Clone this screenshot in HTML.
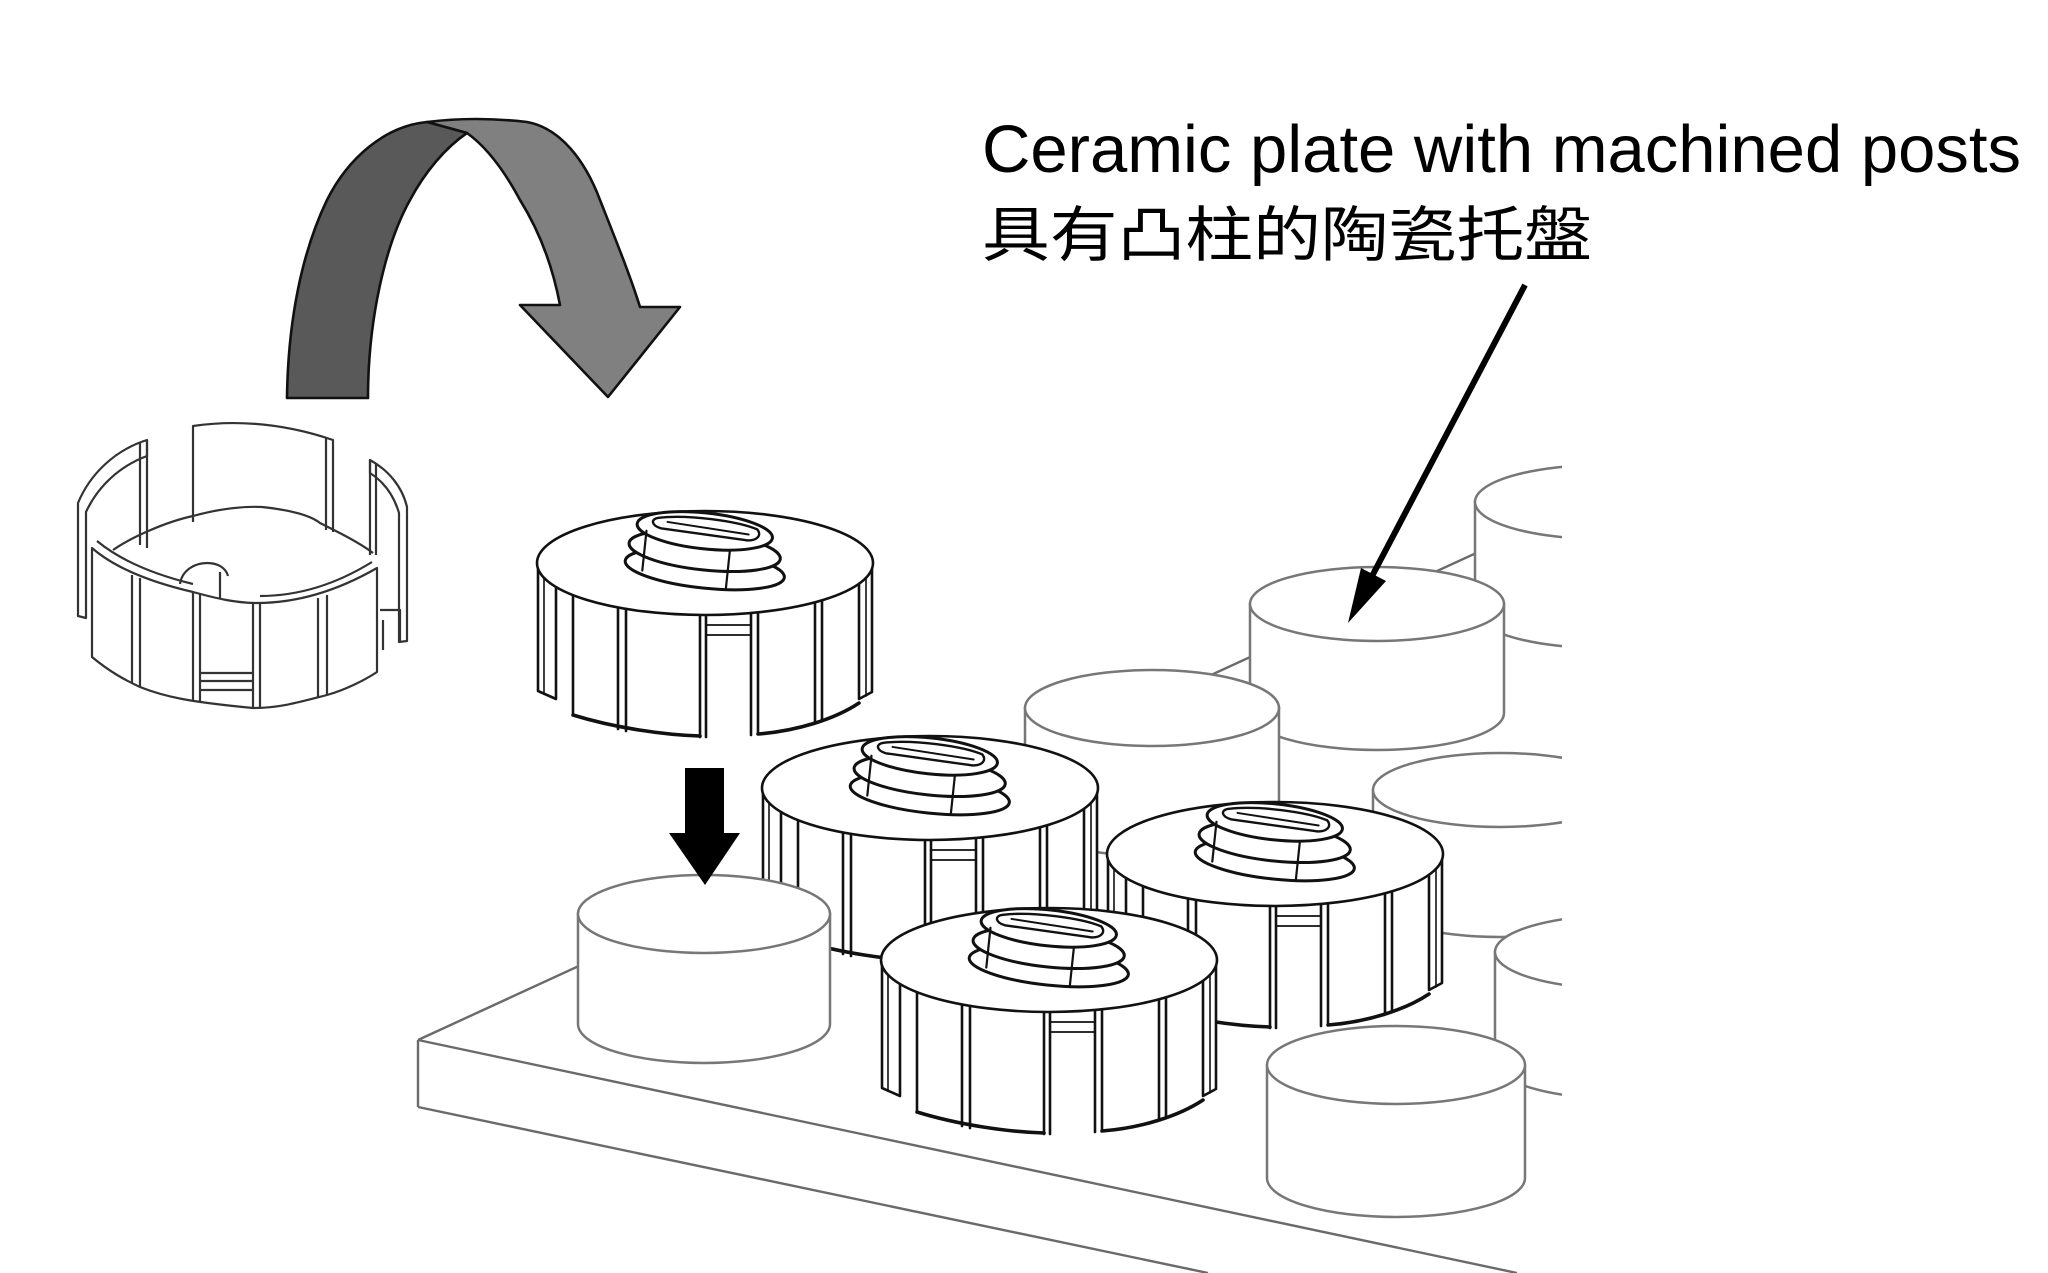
<!DOCTYPE html>
<html><head><meta charset="utf-8">
<style>
html,body{margin:0;padding:0;background:#fff;width:2048px;height:1273px;overflow:hidden}
svg{display:block}
</style></head>
<body>
<svg width="2048" height="1273" viewBox="0 0 2048 1273" xmlns="http://www.w3.org/2000/svg">
<defs>
<clipPath id="clip"><rect x="0" y="0" width="1562" height="1273"/></clipPath>
</defs>
<rect width="2048" height="1273" fill="#fff"/>

<g clip-path="url(#clip)">
<!-- plate -->
<g fill="none" stroke="#6a6a6a" stroke-width="2.4">
<path d="M418,1040 L1561,514"/>
<path d="M418,1040 L1517,1273"/>
<path d="M418,1040 L418,1107"/>
<path d="M418,1107 L1208,1273"/>
</g>

<!-- posts behind -->
<g fill="#fff" stroke="#777" stroke-width="2.5">
<path d="M1475,502 L1475,611 A127,37 0 0 0 1729,611 L1729,502 Z"/><ellipse cx="1602" cy="502" rx="127" ry="37"/>
<path d="M1250,604 L1250,713 A127,37 0 0 0 1504,713 L1504,604 Z"/><ellipse cx="1377" cy="604" rx="127" ry="37"/>
<path d="M1025,708 L1025,818 A127,38 0 0 0 1279,818 L1279,708 Z"/><ellipse cx="1152" cy="708" rx="127" ry="38"/>
<path d="M1373,790 L1373,900 A127,37 0 0 0 1627,900 L1627,790 Z"/><ellipse cx="1500" cy="790" rx="127" ry="37"/>
</g>

<!-- cap2 -->
<g transform="translate(760,728)" fill="#fff" stroke="#111" stroke-width="2.6" stroke-linejoin="round" stroke-linecap="round">
<path stroke="none" d="M3,60 L3,190 L22,197 L38,205 L38,213 C90,229 140,235 200,234 C262,231 306,216 337,192 L338,60 Z"/>
<path d="M3,62 L3,188 L21,196 L21,78"/><path d="M9,70 L9,191" stroke-width="1.6"/>
<path d="M337,62 L337,189 L324,196 L324,80"/><path d="M331,70 L331,193" stroke-width="1.6"/>
<path d="M38,90 L38,212"/>
<path d="M38,212 C80,225 130,232 165,233" stroke-width="3.6" fill="none"/>
<path d="M223,231 C262,228 300,216 324,200" stroke-width="3.6" fill="none"/>
<path d="M83,104 L83,226 M91,106 L91,228 M165,112 L165,234 M171,112 L171,234 M216,111 L216,232 M223,110 L223,231 M280,99 L280,220 M287,97 L287,218" fill="none"/>
<path d="M171,122 L216,122 M171,132 L216,132" stroke-width="1.8" fill="none"/>
<ellipse cx="170" cy="60" rx="168" ry="52"/>
<g transform="rotate(6 170 45)">
<ellipse cx="172" cy="66" rx="80" ry="19" stroke-width="3"/>
<ellipse cx="170" cy="48" rx="76" ry="19" stroke-width="3"/>
<ellipse cx="168" cy="28" rx="68" ry="18" stroke-width="3"/>
<path d="M120,20 C150,13 200,15 220,21 C226,27 220,33 210,33 L124,30 C114,28 113,22 120,20 Z" stroke-width="2.4"/>
<path d="M130,23 L212,27" stroke-width="2" fill="none"/>
<path d="M110,34 L110,74 M195,46 L195,84" stroke-width="2.2" fill="none"/>
</g>
</g>

<!-- cap3 -->
<g transform="translate(1105,794)" fill="#fff" stroke="#111" stroke-width="2.6" stroke-linejoin="round" stroke-linecap="round">
<path stroke="none" d="M3,60 L3,190 L22,197 L38,205 L38,213 C90,229 140,235 200,234 C262,231 306,216 337,192 L338,60 Z"/>
<path d="M3,62 L3,188 L21,196 L21,78"/><path d="M9,70 L9,191" stroke-width="1.6"/>
<path d="M337,62 L337,189 L324,196 L324,80"/><path d="M331,70 L331,193" stroke-width="1.6"/>
<path d="M38,90 L38,212"/>
<path d="M38,212 C80,225 130,232 165,233" stroke-width="3.6" fill="none"/>
<path d="M223,231 C262,228 300,216 324,200" stroke-width="3.6" fill="none"/>
<path d="M83,104 L83,226 M91,106 L91,228 M165,112 L165,234 M171,112 L171,234 M216,111 L216,232 M223,110 L223,231 M280,99 L280,220 M287,97 L287,218" fill="none"/>
<path d="M171,122 L216,122 M171,132 L216,132" stroke-width="1.8" fill="none"/>
<ellipse cx="170" cy="60" rx="168" ry="52"/>
<g transform="rotate(6 170 45)">
<ellipse cx="172" cy="66" rx="80" ry="19" stroke-width="3"/>
<ellipse cx="170" cy="48" rx="76" ry="19" stroke-width="3"/>
<ellipse cx="168" cy="28" rx="68" ry="18" stroke-width="3"/>
<path d="M120,20 C150,13 200,15 220,21 C226,27 220,33 210,33 L124,30 C114,28 113,22 120,20 Z" stroke-width="2.4"/>
<path d="M130,23 L212,27" stroke-width="2" fill="none"/>
<path d="M110,34 L110,74 M195,46 L195,84" stroke-width="2.2" fill="none"/>
</g>
</g>

<!-- posts A, F -->
<g fill="#fff" stroke="#777" stroke-width="2.5">
<path d="M578,914 L578,1024 A126,39 0 0 0 830,1024 L830,914 Z"/><ellipse cx="704" cy="914" rx="126" ry="39"/>
<path d="M1495,952 L1495,1062 A127,37 0 0 0 1749,1062 L1749,952 Z"/><ellipse cx="1622" cy="952" rx="127" ry="37"/>
</g>

<!-- cap4 -->
<g transform="translate(879,900)" fill="#fff" stroke="#111" stroke-width="2.6" stroke-linejoin="round" stroke-linecap="round">
<path stroke="none" d="M3,60 L3,190 L22,197 L38,205 L38,213 C90,229 140,235 200,234 C262,231 306,216 337,192 L338,60 Z"/>
<path d="M3,62 L3,188 L21,196 L21,78"/><path d="M9,70 L9,191" stroke-width="1.6"/>
<path d="M337,62 L337,189 L324,196 L324,80"/><path d="M331,70 L331,193" stroke-width="1.6"/>
<path d="M38,90 L38,212"/>
<path d="M38,212 C80,225 130,232 165,233" stroke-width="3.6" fill="none"/>
<path d="M223,231 C262,228 300,216 324,200" stroke-width="3.6" fill="none"/>
<path d="M83,104 L83,226 M91,106 L91,228 M165,112 L165,234 M171,112 L171,234 M216,111 L216,232 M223,110 L223,231 M280,99 L280,220 M287,97 L287,218" fill="none"/>
<path d="M171,122 L216,122 M171,132 L216,132" stroke-width="1.8" fill="none"/>
<ellipse cx="170" cy="60" rx="168" ry="52"/>
<g transform="rotate(6 170 45)">
<ellipse cx="172" cy="66" rx="80" ry="19" stroke-width="3"/>
<ellipse cx="170" cy="48" rx="76" ry="19" stroke-width="3"/>
<ellipse cx="168" cy="28" rx="68" ry="18" stroke-width="3"/>
<path d="M120,20 C150,13 200,15 220,21 C226,27 220,33 210,33 L124,30 C114,28 113,22 120,20 Z" stroke-width="2.4"/>
<path d="M130,23 L212,27" stroke-width="2" fill="none"/>
<path d="M110,34 L110,74 M195,46 L195,84" stroke-width="2.2" fill="none"/>
</g>
</g>

<!-- post G -->
<g fill="#fff" stroke="#777" stroke-width="2.5">
<path d="M1267,1065 L1267,1178 A129,39 0 0 0 1525,1178 L1525,1065 Z"/><ellipse cx="1396" cy="1065" rx="129" ry="39"/>
</g>
</g>

<!-- black down arrow -->
<polygon points="685,768 724,768 724,833 740,833 705,885 669,833 685,833" fill="#000"/>

<!-- cap1 (floating) -->
<g transform="translate(535,503)" fill="#fff" stroke="#111" stroke-width="2.6" stroke-linejoin="round" stroke-linecap="round">
<path stroke="none" d="M3,60 L3,190 L22,197 L38,205 L38,213 C90,229 140,235 200,234 C262,231 306,216 337,192 L338,60 Z"/>
<path d="M3,62 L3,188 L21,196 L21,78"/><path d="M9,70 L9,191" stroke-width="1.6"/>
<path d="M337,62 L337,189 L324,196 L324,80"/><path d="M331,70 L331,193" stroke-width="1.6"/>
<path d="M38,90 L38,212"/>
<path d="M38,212 C80,225 130,232 165,233" stroke-width="3.6" fill="none"/>
<path d="M223,231 C262,228 300,216 324,200" stroke-width="3.6" fill="none"/>
<path d="M83,104 L83,226 M91,106 L91,228 M165,112 L165,234 M171,112 L171,234 M216,111 L216,232 M223,110 L223,231 M280,99 L280,220 M287,97 L287,218" fill="none"/>
<path d="M171,122 L216,122 M171,132 L216,132" stroke-width="1.8" fill="none"/>
<ellipse cx="170" cy="60" rx="168" ry="52"/>
<g transform="rotate(6 170 45)">
<ellipse cx="172" cy="66" rx="80" ry="19" stroke-width="3"/>
<ellipse cx="170" cy="48" rx="76" ry="19" stroke-width="3"/>
<ellipse cx="168" cy="28" rx="68" ry="18" stroke-width="3"/>
<path d="M120,20 C150,13 200,15 220,21 C226,27 220,33 210,33 L124,30 C114,28 113,22 120,20 Z" stroke-width="2.4"/>
<path d="M130,23 L212,27" stroke-width="2" fill="none"/>
<path d="M110,34 L110,74 M195,46 L195,84" stroke-width="2.2" fill="none"/>
</g>
</g>

<!-- open ring / cage -->
<g fill="none" stroke="#333" stroke-width="2.2" stroke-linejoin="round">
<path fill="#fff" d="M193,522 L193,426 Q262,416 333,440 L333,532"/>
<path d="M326,437 L326,530"/>
<path fill="#fff" d="M147,440 C115,450 90,474 78,503 L78,616 L86,618 L86,512 C98,486 120,466 147,456 Z"/>
<path d="M147,440 L147,548 M140,443 L140,545"/>
<path fill="#fff" d="M370,460 C388,470 402,486 407,507 L407,641 L399,642 L399,513 C394,496 384,482 370,473 Z"/>
<path d="M370,460 L370,555 M376,463 L376,555"/>
<path d="M113,550 C130,538 165,522 193,516 C215,510 240,506 262,507 C290,510 310,515 320,523 C340,533 360,543 373,553"/>
<path fill="#fff" d="M92,548 C115,568 150,582 193,592 C215,598 235,603 257,603 C290,603 330,595 377,568 L377,672 C365,680 345,690 327,695 C300,702 280,708 253,708 C190,702 165,697 140,687 C125,680 110,672 92,657 Z"/>
<path d="M97,541 C120,560 152,574 193,584 M260,596 C292,596 330,588 372,562"/>
<path d="M132,575 L132,683 M140,578 L140,687 M193,592 L193,700 M200,594 L200,701 M253,603 L253,708 M260,603 L260,708 M318,598 L318,697 M327,595 L327,695"/>
<path d="M180,584 C182,570 195,563 207,563 C218,563 226,568 228,576 M220,572 L220,598 M200,673 L253,673 M200,681 L253,681 M200,690 L253,690"/>
<path d="M380,610 L400,610 L400,642 M383,620 L383,650"/>
</g>

<!-- curved gray arrow -->
<g stroke="#111" stroke-width="2.6" stroke-linejoin="round">
<path fill="#808080" d="M427,122 Q475,116 527,122 C560,128 585,160 600,200 C615,238 630,275 640,307 L680,307 L608,397 L520,305 L560,305 C553,268 540,232 520,200 C505,172 488,148 467,133 Z"/>
<path fill="#595959" d="M287,398 L368,398 C368,320 385,245 410,200 C425,172 445,148 467,133 L427,122 C385,126 348,158 327,200 C302,252 288,320 287,398 Z"/>
</g>

<!-- leader arrow -->
<line x1="1525" y1="285" x2="1370" y2="580" stroke="#000" stroke-width="6"/>
<polygon points="1348,623 1386,581 1361,568" fill="#000"/>

<!-- labels -->
<text x="982" y="172" font-family="'Liberation Sans', Arial, sans-serif" font-size="67" fill="#000">Ceramic plate with machined posts</text>
<text transform="translate(982,256) scale(1.13,1)" x="0" y="0" font-family="'Liberation Sans', 'Noto Sans CJK TC', sans-serif" font-size="60" fill="#000">具有凸柱的陶瓷托盤</text>
</svg>
</body></html>
